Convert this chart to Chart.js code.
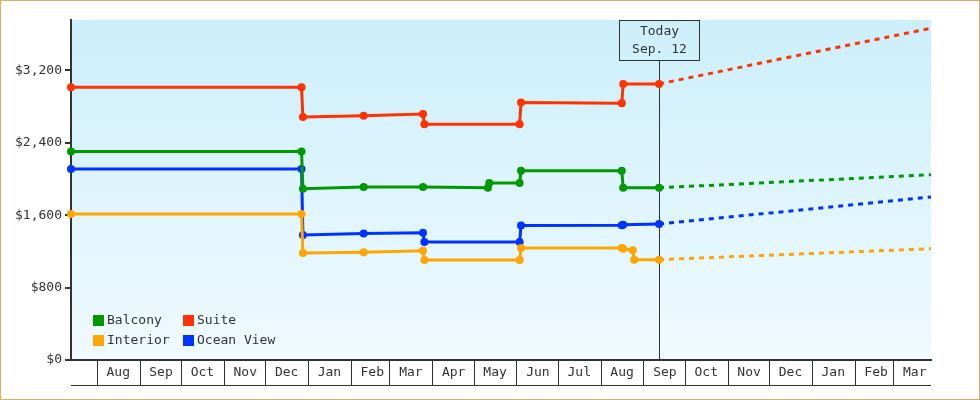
<!DOCTYPE html>
<html>
<head>
<meta charset="utf-8">
<title>Cabin fares</title>
<script src="https://cdn.jsdelivr.net/npm/chart.js@4.4.0/dist/chart.umd.min.js"></script>
<style>
  html, body { margin: 0; padding: 0; background: #fff; }
  canvas { display: block; }
</style>
</head>
<body>
<canvas id="fareChart" width="980" height="400"></canvas>
<script>
// time range of the x axis
const startDate = '2012-07-13';
const endDate = '2014-03-28';
const todayDate = '2013-09-12';
const todayLabel = ['Today', 'Sep. 12'];

const seriesNames = ['Balcony', 'Suite', 'Interior', 'Ocean View'];
const seriesColors = ['#009900', '#ff3300', '#ffa500', '#0033ff'];

// price history (date, price)
const balconyDates = ['2012-07-13', '2012-12-27', '2012-12-28', '2013-02-10', '2013-03-25', '2013-05-11', '2013-05-12', '2013-06-03', '2013-06-04', '2013-08-16', '2013-08-17', '2013-09-12'];
const balconyPrices = [2304, 2304, 1892, 1911, 1911, 1903, 1957, 1955, 2091, 2091, 1903, 1903];

const suiteDates = ['2012-07-13', '2012-12-27', '2012-12-28', '2013-02-10', '2013-03-25', '2013-03-26', '2013-06-03', '2013-06-04', '2013-08-16', '2013-08-17', '2013-09-12'];
const suitePrices = [3015, 3015, 2685, 2698, 2717, 2606, 2606, 2845, 2838, 3051, 3051];

const interiorDates = ['2012-07-13', '2012-12-27', '2012-12-28', '2013-02-10', '2013-03-25', '2013-03-26', '2013-06-03', '2013-06-04', '2013-08-16', '2013-08-17', '2013-08-24', '2013-08-25', '2013-09-12'];
const interiorPrices = [1613, 1613, 1183, 1192, 1208, 1106, 1106, 1238, 1238, 1228, 1212, 1109, 1109];

const oceanDates = ['2012-07-13', '2012-12-27', '2012-12-28', '2013-02-10', '2013-03-25', '2013-03-26', '2013-06-03', '2013-06-04', '2013-08-16', '2013-08-17', '2013-09-12'];
const oceanPrices = [2110, 2110, 1381, 1399, 1407, 1304, 1304, 1487, 1490, 1495, 1503];

// forecast after today (dashed)
const forecastDates = ['2013-09-12', '2014-03-28'];
const balconyForecast = [1903, 2047];
const suiteForecast = [3051, 3666];
const interiorForecast = [1109, 1230];
const oceanForecast = [1503, 1801];

// axis ticks
const monthTickDates = ['2012-08-01', '2012-09-01', '2012-10-01', '2012-11-01', '2012-12-01', '2013-01-01', '2013-02-01', '2013-03-01', '2013-04-01', '2013-05-01', '2013-06-01', '2013-07-01', '2013-08-01', '2013-09-01', '2013-10-01', '2013-11-01', '2013-12-01', '2014-01-01', '2014-02-01', '2014-03-01'];
const monthLabels = ['Aug', 'Sep', 'Oct', 'Nov', 'Dec', 'Jan', 'Feb', 'Mar', 'Apr', 'May', 'Jun', 'Jul', 'Aug', 'Sep', 'Oct', 'Nov', 'Dec', 'Jan', 'Feb', 'Mar'];
const priceTicks = [0, 800, 1600, 2400, 3200];
const priceMax = 3757;

const monoFont = "'DejaVu Sans Mono', monospace";
const ink = '#333';

function toDay(s) {
    return (Date.parse(s) - Date.parse(startDate)) / 86400000;
}

function points(dates, values) {
    return dates.map((d, i) => ({ x: toDay(d), y: values[i] }));
}

const history = [
    points(balconyDates, balconyPrices),
    points(suiteDates, suitePrices),
    points(interiorDates, interiorPrices),
    points(oceanDates, oceanPrices)
];
const forecast = [balconyForecast, suiteForecast, interiorForecast, oceanForecast].map(v => points(forecastDates, v));

const datasets = [];
forecast.forEach((pts, i) => {
    datasets.push({
        label: seriesNames[i] + ' forecast',
        data: pts,
        borderColor: seriesColors[i],
        borderWidth: 3,
        borderDash: [5, 5],
        pointRadius: 0,
        clip: false
    });
});
history.forEach((pts, i) => {
    datasets.push({
        label: seriesNames[i],
        data: pts,
        borderColor: seriesColors[i],
        backgroundColor: seriesColors[i],
        borderWidth: 3,
        pointRadius: 4,
        pointBorderWidth: 0,
        pointBackgroundColor: seriesColors[i],
        clip: false
    });
});

const framePlugin = {
    id: 'frame',
    beforeDraw(chart) {
        const c = chart.ctx;
        const a = chart.chartArea;
        c.save();
        c.fillStyle = '#fff';
        c.fillRect(0, 0, chart.width, chart.height);
        const g = c.createLinearGradient(0, a.top, 0, a.bottom);
        g.addColorStop(0, 'rgb(204,239,251)');
        g.addColorStop(1, 'rgb(240,250,255)');
        c.fillStyle = g;
        c.fillRect(a.left, a.top, a.right - a.left, a.bottom - a.top);
        c.restore();
    },
    beforeDatasetsDraw(chart) {
        const c = chart.ctx;
        const a = chart.chartArea;
        const x = Math.round(chart.scales.x.getPixelForValue(toDay(todayDate))) + 0.5;
        c.save();
        c.strokeStyle = ink;
        c.lineWidth = 1;
        // today marker
        c.strokeRect(x - 40, a.top + 0.5, 80, 40);
        c.beginPath();
        c.moveTo(x, a.top + 40.5);
        c.lineTo(x, a.bottom);
        c.stroke();
        c.fillStyle = ink;
        c.font = '13px ' + monoFont;
        c.textAlign = 'center';
        c.textBaseline = 'middle';
        c.fillText(todayLabel[0], x, a.top + 12);
        c.fillText(todayLabel[1], x, a.top + 30);
        // bottom line of the month cells
        c.beginPath();
        c.moveTo(a.left, a.bottom + 25.5);
        c.lineTo(a.right, a.bottom + 25.5);
        c.stroke();
        c.restore();
    },
    afterDraw(chart) {
        const c = chart.ctx;
        const a = chart.chartArea;
        c.save();
        // legend, two columns
        c.font = '13px ' + monoFont;
        c.textAlign = 'left';
        c.textBaseline = 'middle';
        seriesNames.forEach((name, i) => {
            const bx = a.left + 22 + (i % 2) * 90;
            const by = a.bottom - 45 + Math.floor(i / 2) * 20;
            c.fillStyle = seriesColors[i];
            c.fillRect(bx, by, 11, 11);
            c.fillStyle = ink;
            c.fillText(name, bx + 14, by + 6);
        });
        // outer border
        c.strokeStyle = '#e8a860';
        c.lineWidth = 1;
        c.strokeRect(0.5, 0.5, chart.width - 1, chart.height - 1);
        c.restore();
    }
};

new Chart(document.getElementById('fareChart').getContext('2d'), {
    type: 'line',
    data: { datasets: datasets },
    options: {
        responsive: false,
        animation: false,
        layout: { padding: { left: 0, right: 49, top: 20, bottom: 0 } },
        elements: { line: { tension: 0 } },
        plugins: {
            legend: { display: false },
            tooltip: { enabled: false }
        },
        scales: {
            x: {
                type: 'linear',
                min: 0,
                max: toDay(endDate),
                afterBuildTicks: s => { s.ticks = monthTickDates.map(d => ({ value: toDay(d) })); },
                afterFit: s => { s.height = 40; },
                border: { color: ink, width: 2 },
                grid: { drawOnChartArea: false, tickLength: 25, color: ink, lineWidth: 1 },
                ticks: {
                    autoSkip: false,
                    maxRotation: 0,
                    padding: -20,
                    labelOffset: 21,
                    color: ink,
                    font: { family: monoFont, size: 13 },
                    callback: (v, i) => monthLabels[i]
                }
            },
            y: {
                min: 0,
                max: priceMax,
                afterBuildTicks: s => { s.ticks = priceTicks.map(v => ({ value: v })); },
                afterFit: s => { s.width = 71; },
                border: { color: ink, width: 2 },
                grid: { drawOnChartArea: false, tickLength: 6, color: ink, lineWidth: 2 },
                ticks: {
                    padding: 3,
                    color: ink,
                    font: { family: monoFont, size: 13 },
                    callback: v => '$' + v.toLocaleString('en-US')
                }
            }
        }
    },
    plugins: [framePlugin]
});
</script>
</body>
</html>
